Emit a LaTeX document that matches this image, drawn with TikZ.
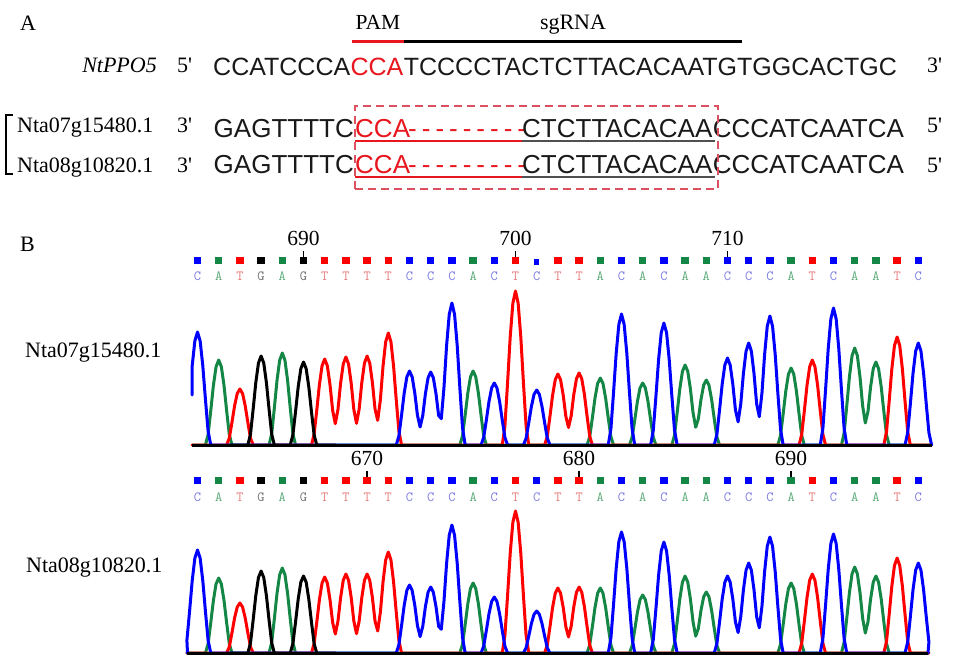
\documentclass[tikz,border=0pt]{standalone}
\usepackage{fontspec}
\setmainfont{Liberation Serif}
\newfontfamily\arialf{Liberation Sans}
\definecolor{cB}{RGB}{0,0,255}
\definecolor{cG}{RGB}{20,135,70}
\definecolor{cR}{RGB}{255,0,0}
\definecolor{cK}{RGB}{0,0,0}
\definecolor{lC}{RGB}{120,120,225}
\definecolor{lA}{RGB}{90,170,120}
\definecolor{lT}{RGB}{230,120,120}
\definecolor{lG}{RGB}{110,110,110}
\definecolor{seqred}{RGB}{232,22,30}
\definecolor{boxred}{RGB}{220,80,95}
\definecolor{ulgray}{RGB}{80,80,80}
\definecolor{seqk}{RGB}{25,25,25}
\newcommand\pr{\textquotesingle}
\begin{document}
\begin{tikzpicture}[x=1pt,y=-1pt,
  declare function={sqq(\z)=\z*\z; pk(\z)=sqq(max(0,1-2.6*\z*\z));},
  ser/.style={font=\fontsize{22}{24}\selectfont, inner sep=0pt},
  tickl/.style={font=\fontsize{21.5}{24}\selectfont, inner sep=0pt, anchor=base},
  seqt/.style={font=\arialf\fontsize{25}{28}\selectfont, inner sep=0pt, anchor=base west, text=seqk},
  seqb/.style={font=\arialf\fontsize{26}{28}\selectfont, inner sep=0pt, anchor=base west, text=seqk},
  tr/.style={line width=3pt, line join=round, line cap=round},
  sqr/.style={minimum size=7.5pt, inner sep=0pt, outer sep=0pt},
  ltr/.style={font=\ttfamily\fontsize{14}{14}\selectfont, inner sep=0pt},
  tickm/.style={line width=1.6pt},
  bar/.style={line width=2.6pt},
  baseln/.style={line width=2.8pt, black}
]
\useasboundingbox (0,0) rectangle (963,670);

% ---------------- Panel A ----------------
\node[ser, anchor=base west] (labA) at (20,30) {A};
\node[ser, font=\fontsize{21.5}{24}\selectfont, anchor=base] (pam) at (378,29) {PAM};
\node[ser, anchor=base] (sgrna) at (573,29) {sgRNA};
\coordinate (pamL) at (352,41.5);
\coordinate (pamR) at (404,41.5);
\coordinate (sgR) at (742,41.5);
\draw[bar, seqred] (pamL) -- (pamR);
\draw[bar, black] (pamR) -- (sgR);

\node[ser, anchor=base east] (gene) at (157,72) {\itshape NtPPO5};
\node[ser, anchor=base west] (p5a) at (177,72) {5\pr};
\node[seqt] (s1) at (213,75) {CCATCCCA};
\node[seqt, text=seqred] (s2) at (s1.base east) {CCA};
\node[seqt] (s3) at (s2.base east) {TCCCCTACTCTTACACAATGTGGCACTGC};
\node[ser, anchor=base west] (p3a) at (927,72) {3\pr};

% bracket
\coordinate (brA) at (13,115);
\coordinate (brB) at (6,115);
\coordinate (brC) at (6,174);
\coordinate (brD) at (13,174);
\draw[line width=2pt] (brA) -- (brB) -- (brC) -- (brD);

% row 2
\node[ser, anchor=base west] (g1) at (17,132) {Nta07g15480.1};
\node[ser, anchor=base west] (p3b) at (177,132) {3\pr};
\node[seqb, anchor=base east] (r1a) at (354,137) {GAGTTTTC};
\node[seqb, text=seqred] (r1b) at (355,137) {CCA};
\node[seqb, text=seqred] (r1c) at (408,137) {-\kern5pt-\kern5pt-\kern5pt-\kern5pt-\kern5pt-\kern5pt-\kern5pt-\kern5pt-};
\node[seqb] (r1d) at (522,137) {CTCTTACACAA};
\node[seqb] (r1e) at (r1d.base east) {CCCATCAATCA};
\node[ser, anchor=base west] (p5b) at (927,132) {5\pr};
\coordinate (u1a) at (355,141);
\coordinate (u1b) at (522,141);
\coordinate (u1c) at (715,141);
\draw[line width=1.5pt, seqred] (u1a) -- (u1b);
\draw[line width=1.5pt, ulgray] (u1b) -- (u1c);

% row 3
\node[ser, anchor=base west] (g2) at (17,172) {Nta08g10820.1};
\node[ser, anchor=base west] (p3c) at (177,172) {3\pr};
\node[seqb, anchor=base east] (r2a) at (354,173) {GAGTTTTC};
\node[seqb, text=seqred] (r2b) at (355,173) {CCA};
\node[seqb, text=seqred] (r2c) at (408,173) {-\kern5pt-\kern5pt-\kern5pt-\kern5pt-\kern5pt-\kern5pt-\kern5pt-\kern5pt-};
\node[seqb] (r2d) at (522,173) {CTCTTACACAA};
\node[seqb] (r2e) at (r2d.base east) {CCCATCAATCA};
\node[ser, anchor=base west] (p5c) at (927,172) {5\pr};
\coordinate (u2a) at (355,177);
\coordinate (u2b) at (522,177);
\coordinate (u2c) at (715,177);
\draw[line width=1.5pt, seqred] (u2a) -- (u2b);
\draw[line width=1.5pt, ulgray] (u2b) -- (u2c);

% dashed box
\node[draw=boxred, line width=1.8pt, dash pattern=on 8pt off 5pt, inner sep=0pt,
      minimum width=363pt, minimum height=83pt, anchor=north west] (dbox) at (354,105) {};

% ---------------- Panel B ----------------
\node[ser, anchor=base west] (labB) at (20,251) {B};
\node[ser, anchor=base west] (c1lab) at (25,357) {Nta07g15480.1};
\node[ser, anchor=base west] (c2lab) at (26,572) {Nta08g10820.1};

% base calls, chromatogram 1
\foreach \i in {1,11,12,13,15,21,23,26,27,28,31,35} {
  \node[sqr, fill=cB] (aS\i) at ({197.5+21.2*(\i-1)},260.5) {};
  \node[ltr, text=lC] (aL\i) at ({197.5+21.2*(\i-1)},276.5) {C};
}
\node[sqr, minimum size=5.5pt, fill=cB] (aS17) at ({197.5+21.2*16},262) {};
\node[ltr, text=lC] (aL17) at ({197.5+21.2*16},276.5) {C};
\foreach \i in {2,5,14,20,22,24,25,29,32,33} {
  \node[sqr, fill=cG] (aS\i) at ({197.5+21.2*(\i-1)},260.5) {};
  \node[ltr, text=lA] (aL\i) at ({197.5+21.2*(\i-1)},276.5) {A};
}
\foreach \i in {3,7,8,9,10,16,18,19,30,34} {
  \node[sqr, fill=cR] (aS\i) at ({197.5+21.2*(\i-1)},260.5) {};
  \node[ltr, text=lT] (aL\i) at ({197.5+21.2*(\i-1)},276.5) {T};
}
\foreach \i in {4,6} {
  \node[sqr, fill=cK] (aS\i) at ({197.5+21.2*(\i-1)},260.5) {};
  \node[ltr, text=lG] (aL\i) at ({197.5+21.2*(\i-1)},276.5) {G};
}
\foreach \i/\n in {6/690,16/700,26/710} {
  \node[tickl] (aT\n) at ({197.5+21.2*(\i-1)},245) {\n};
  \coordinate (aK\n) at ({197.5+21.2*(\i-1)},251);
  \draw[tickm] (aK\n) -- (aS\i.north);
}

% base calls, chromatogram 2
\foreach \i in {1,11,12,13,15,17,21,23,26,27,28,31,35} {
  \node[sqr, fill=cB] (bS\i) at ({197.5+21.2*(\i-1)},480.5) {};
  \node[ltr, text=lC] (bL\i) at ({197.5+21.2*(\i-1)},497) {C};
}
\foreach \i in {2,5,14,20,22,24,25,29,32,33} {
  \node[sqr, fill=cG] (bS\i) at ({197.5+21.2*(\i-1)},480.5) {};
  \node[ltr, text=lA] (bL\i) at ({197.5+21.2*(\i-1)},497) {A};
}
\foreach \i in {3,7,8,9,10,16,18,19,30,34} {
  \node[sqr, fill=cR] (bS\i) at ({197.5+21.2*(\i-1)},480.5) {};
  \node[ltr, text=lT] (bL\i) at ({197.5+21.2*(\i-1)},497) {T};
}
\foreach \i in {4,6} {
  \node[sqr, fill=cK] (bS\i) at ({197.5+21.2*(\i-1)},480.5) {};
  \node[ltr, text=lG] (bL\i) at ({197.5+21.2*(\i-1)},497) {G};
}
\foreach \i/\n in {9/670,19/680,29/690} {
  \node[tickl] (bT\n) at ({197.5+21.2*(\i-1)},465) {\n};
  \coordinate (bK\n) at ({197.5+21.2*(\i-1)},471);
  \draw[tickm] (bK\n) -- (bS\i.north);
}

% traces, chromatogram 1 (baseline 445)
\draw[tr, cG] plot[domain=0.75:35.625, samples=280]
  ({197.5+21.2*(\x-1)},{445-(85*pk(\x-2)+92*pk(\x-5)+74*pk(\x-14)+67*pk(\x-20)+62*pk(\x-22)+80*pk(\x-24)+65*pk(\x-25)+77*pk(\x-29)+97*pk(\x-32)+83*pk(\x-33))});
\draw[tr, cR] plot[domain=0.75:35.625, samples=280]
  ({197.5+21.2*(\x-1)},{445-(56*pk(\x-3)+86*pk(\x-7)+88*pk(\x-8)+89*pk(\x-9)+112*pk(\x-10)+154*pk(\x-16)+71*pk(\x-18)+72*pk(\x-19)+85*pk(\x-30)+108*pk(\x-34))});
\coordinate (c1start) at (192.2,395);
\draw[tr, cB] (c1start) -- plot[domain=0.75:35.625, samples=280]
  ({197.5+21.2*(\x-1)},{445-(113*pk(\x-1)+74*pk(\x-11)+73*pk(\x-12)+142*pk(\x-13)+62*pk(\x-15)+55*pk(\x-17)+131*pk(\x-21)+122*pk(\x-23)+87*pk(\x-26)+102*pk(\x-27)+129*pk(\x-28)+137*pk(\x-31)+102*pk(\x-35))});
\draw[tr, cK] plot[domain=2.5:7.5, samples=41]
  ({197.5+21.2*(\x-1)},{445-(89*pk(\x-4)+83*pk(\x-6))});
\coordinate (c1L) at (192,445.5);
\coordinate (c1R) at (931.5,445.5);
\draw[baseln] (c1L) -- (c1R);

% traces, chromatogram 2 (baseline 653)
\draw[tr, cG] plot[domain=0.5:35.5, samples=281]
  ({197.5+21.2*(\x-1)},{653-(75*pk(\x-2)+85*pk(\x-5)+70*pk(\x-14)+65*pk(\x-20)+58*pk(\x-22)+77*pk(\x-24)+61*pk(\x-25)+70*pk(\x-29)+86*pk(\x-32)+77*pk(\x-33))});
\draw[tr, cR] plot[domain=0.5:35.5, samples=281]
  ({197.5+21.2*(\x-1)},{653-(50*pk(\x-3)+76*pk(\x-7)+79*pk(\x-8)+79*pk(\x-9)+101*pk(\x-10)+142*pk(\x-16)+65*pk(\x-18)+66*pk(\x-19)+79*pk(\x-30)+95*pk(\x-34))});
\coordinate (c2start) at (187.5,653);
\coordinate (c2end) at (928,653);
\draw[tr, cB] (c2start) -- plot[domain=0.5:35.5, samples=281]
  ({197.5+21.2*(\x-1)},{653-(103*pk(\x-1)+68*pk(\x-11)+66*pk(\x-12)+128*pk(\x-13)+56*pk(\x-15)+42*pk(\x-17)+121*pk(\x-21)+111*pk(\x-23)+77*pk(\x-26)+90*pk(\x-27)+116*pk(\x-28)+119*pk(\x-31)+90*pk(\x-35))}) -- (c2end);
\draw[tr, cK] plot[domain=2.5:7.5, samples=41]
  ({197.5+21.2*(\x-1)},{653-(82*pk(\x-4)+77*pk(\x-6))});
\coordinate (c2L) at (187,653.5);
\coordinate (c2R) at (928,653.5);
\draw[baseln] (c2L) -- (c2R);
\end{tikzpicture}
\end{document}
